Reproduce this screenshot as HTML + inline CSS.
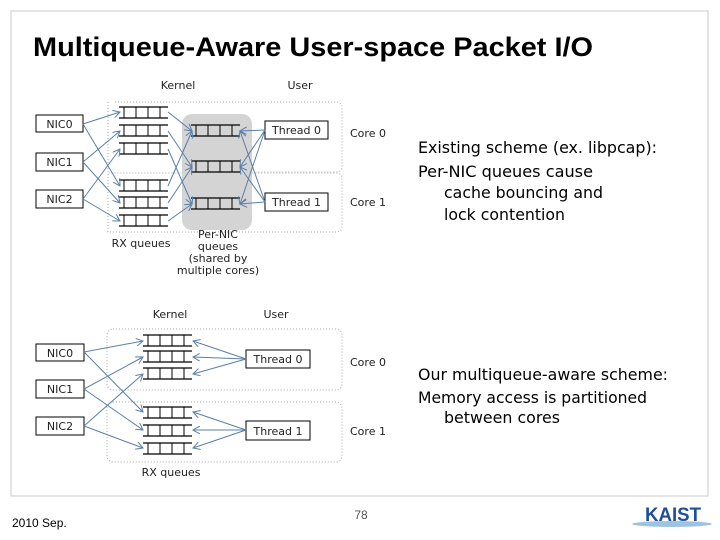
<!DOCTYPE html>
<html><head><meta charset="utf-8"><style>
html,body{margin:0;padding:0;background:#fff}
svg{display:block}
text{font-family:"DejaVu Sans","Liberation Sans",sans-serif}
</style></head><body>
<svg width="720" height="540" viewBox="0 0 720 540" xmlns="http://www.w3.org/2000/svg">
<defs>
<marker id="a" markerWidth="8" markerHeight="8" refX="7" refY="4" orient="auto" markerUnits="userSpaceOnUse">
<path d="M0,0 L7,4 L0,8" fill="none" stroke="#5b7fa8" stroke-width="1"/></marker>
<g id="q"><line x1="0" y1="0" x2="49" y2="0" stroke="#000" stroke-width="1.3"/><line x1="0" y1="11" x2="49" y2="11" stroke="#000" stroke-width="1.3"/>
<line x1="5" y1="0" x2="5" y2="11" stroke="#000"/><line x1="17" y1="0" x2="17" y2="11" stroke="#000"/><line x1="29" y1="0" x2="29" y2="11" stroke="#000"/><line x1="41" y1="0" x2="41" y2="11" stroke="#000"/></g>
</defs>
<rect x="11" y="11" width="697" height="485" fill="none" stroke="#c8c8c8"/>
<text x="33" y="56" font-weight="bold" font-size="27" textLength="560" lengthAdjust="spacingAndGlyphs" style="font-family:'Liberation Sans',sans-serif">Multiqueue-Aware User-space Packet I/O</text>

<g font-size="11" fill="#222">
<text x="178" y="89" text-anchor="middle">Kernel</text>
<text x="300" y="89" text-anchor="middle">User</text>
<path d="M115,102 H336 Q342,102 342,108 V166 Q342,172 336,172 H256" fill="none" stroke="#aaa" stroke-dasharray="1,2"/>
<path d="M108,102 V232 H336 Q342,232 342,226 V179 Q342,173 336,173 H108" fill="none" stroke="#aaa" stroke-dasharray="1,2"/>
<rect x="182" y="114" width="70" height="116" rx="10" fill="#d4d4d4"/>
<rect x="36" y="115" width="47" height="17" fill="#fff" stroke="#000"/><text x="59.5" y="128" text-anchor="middle">NIC0</text>
<rect x="36" y="153" width="47" height="18" fill="#fff" stroke="#000"/><text x="59.5" y="166" text-anchor="middle">NIC1</text>
<rect x="36" y="190" width="47" height="18" fill="#fff" stroke="#000"/><text x="59.5" y="203" text-anchor="middle">NIC2</text>
<use href="#q" x="119" y="107"/><use href="#q" x="119" y="125"/><use href="#q" x="119" y="143"/>
<use href="#q" x="119" y="180"/><use href="#q" x="119" y="197"/><use href="#q" x="119" y="215"/>
<use href="#q" x="191" y="125"/><use href="#q" x="191" y="161"/><use href="#q" x="191" y="198"/>
<rect x="265" y="121" width="63" height="18" fill="#fff" stroke="#000"/><text x="296.5" y="134" text-anchor="middle">Thread 0</text>
<rect x="265" y="193" width="63" height="18" fill="#fff" stroke="#000"/><text x="296.5" y="206" text-anchor="middle">Thread 1</text>
<text x="350" y="137">Core 0</text><text x="350" y="206">Core 1</text>
<text x="141" y="247" text-anchor="middle">RX queues</text>
<text x="218" y="238" text-anchor="middle">Per-NIC</text><text x="218" y="250" text-anchor="middle">queues</text>
<text x="218" y="262" text-anchor="middle">(shared by</text><text x="218" y="274" text-anchor="middle">multiple cores)</text>
<g stroke="#5b7fa8" stroke-width="1" fill="none" marker-end="url(#a)">
<line x1="83" y1="124" x2="120" y2="112"/><line x1="83" y1="124" x2="120" y2="186"/>
<line x1="83" y1="162" x2="120" y2="131"/><line x1="83" y1="162" x2="120" y2="203"/>
<line x1="83" y1="199" x2="120" y2="149"/><line x1="83" y1="199" x2="120" y2="221"/>
<line x1="168" y1="112" x2="192" y2="131"/><line x1="168" y1="131" x2="192" y2="167"/>
<line x1="168" y1="149" x2="192" y2="204"/><line x1="168" y1="186" x2="192" y2="131"/>
<line x1="168" y1="203" x2="192" y2="167"/><line x1="168" y1="221" x2="192" y2="204"/>
<line x1="265" y1="130" x2="240" y2="131"/><line x1="265" y1="130" x2="240" y2="167"/><line x1="265" y1="130" x2="240" y2="204"/>
<line x1="265" y1="202" x2="240" y2="131"/><line x1="265" y1="202" x2="240" y2="167"/><line x1="265" y1="202" x2="240" y2="204"/>
</g>

<text x="170" y="318" text-anchor="middle">Kernel</text>
<text x="276" y="318" text-anchor="middle">User</text>
<rect x="107" y="329" width="235" height="61" rx="6" fill="none" stroke="#aaa" stroke-dasharray="1,2"/>
<rect x="107" y="402" width="235" height="60" rx="6" fill="none" stroke="#aaa" stroke-dasharray="1,2"/>
<rect x="36" y="344" width="48" height="17" fill="#fff" stroke="#000"/><text x="60" y="357" text-anchor="middle">NIC0</text>
<rect x="36" y="380" width="48" height="18" fill="#fff" stroke="#000"/><text x="60" y="393" text-anchor="middle">NIC1</text>
<rect x="36" y="417" width="48" height="18" fill="#fff" stroke="#000"/><text x="60" y="430" text-anchor="middle">NIC2</text>
<use href="#q" x="143" y="335"/><use href="#q" x="143" y="351"/><use href="#q" x="143" y="368"/>
<use href="#q" x="143" y="407"/><use href="#q" x="143" y="425"/><use href="#q" x="143" y="443"/>
<rect x="246" y="350" width="64" height="18" fill="#fff" stroke="#000"/><text x="278" y="363" text-anchor="middle">Thread 0</text>
<rect x="246" y="421" width="64" height="19" fill="#fff" stroke="#000"/><text x="278" y="435" text-anchor="middle">Thread 1</text>
<text x="350" y="366">Core 0</text><text x="350" y="435">Core 1</text>
<text x="171" y="476" text-anchor="middle">RX queues</text>
<g stroke="#5b7fa8" stroke-width="1" fill="none" marker-end="url(#a)">
<line x1="84" y1="352" x2="143" y2="341"/><line x1="84" y1="352" x2="143" y2="412"/>
<line x1="84" y1="389" x2="143" y2="357"/><line x1="84" y1="389" x2="143" y2="430"/>
<line x1="84" y1="426" x2="143" y2="374"/><line x1="84" y1="426" x2="143" y2="448"/>
<line x1="246" y1="359" x2="193" y2="341"/><line x1="246" y1="359" x2="193" y2="357"/><line x1="246" y1="359" x2="193" y2="374"/>
<line x1="246" y1="430" x2="193" y2="412"/><line x1="246" y1="430" x2="193" y2="430"/><line x1="246" y1="430" x2="193" y2="448"/>
</g>
</g>

<g font-size="16" fill="#000">
<text x="418" y="153" textLength="239" lengthAdjust="spacingAndGlyphs">Existing scheme (ex. libpcap):</text>
<text x="418" y="177" textLength="175" lengthAdjust="spacingAndGlyphs">Per-NIC queues cause</text>
<text x="444" y="198" textLength="159" lengthAdjust="spacingAndGlyphs">cache bouncing and</text>
<text x="444" y="220" textLength="121" lengthAdjust="spacingAndGlyphs">lock contention</text>
<text x="418" y="380" textLength="250" lengthAdjust="spacingAndGlyphs">Our multiqueue-aware scheme:</text>
<text x="418" y="403" textLength="229" lengthAdjust="spacingAndGlyphs">Memory access is partitioned</text>
<text x="444" y="423" textLength="116" lengthAdjust="spacingAndGlyphs">between cores</text>
</g>
<text x="12" y="527" font-size="12" fill="#000" style="font-family:'Liberation Sans',sans-serif">2010 Sep.</text>
<text x="361" y="519" font-size="12" fill="#555" text-anchor="middle" style="font-family:'Liberation Sans',sans-serif">78</text>
<ellipse cx="672" cy="524" rx="40" ry="3" fill="#9ec3e0"/>
<text x="673" y="521" font-size="19" font-weight="bold" fill="#1f4e9a" text-anchor="middle" style="font-family:'Liberation Sans',sans-serif" textLength="56" lengthAdjust="spacingAndGlyphs">KAIST</text>
</svg>
</body></html>
